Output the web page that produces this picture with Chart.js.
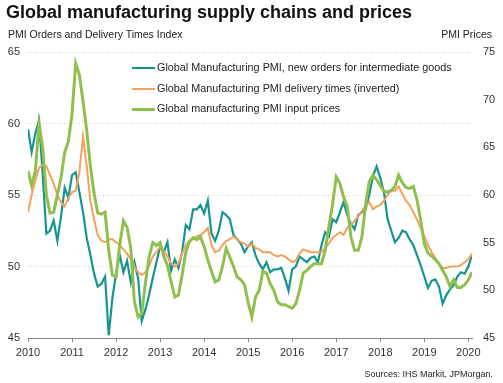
<!DOCTYPE html>
<html><head><meta charset="utf-8">
<script src="https://cdn.jsdelivr.net/npm/chart.js@4/dist/chart.umd.min.js"></script>
<style>
body{margin:0;background:#fff;}
#wrap{position:relative;width:503px;height:383px;font-family:"Liberation Sans",Arial,sans-serif;overflow:hidden;}
canvas{position:absolute;left:0;top:0;}
.t{position:absolute;white-space:nowrap;color:#222;line-height:1;}
.lg{position:absolute;left:132px;width:23px;height:2px;}
</style></head><body>
<div id="wrap">
<canvas id="c" width="503" height="383"></canvas>
<div class="t" style="left:6px;top:3px;font-size:18px;font-weight:bold;color:#111">Global manufacturing supply chains and prices</div>
<div class="t" style="left:8px;top:29px;font-size:10.5px">PMI Orders and Delivery Times Index</div>
<div class="t" style="right:11px;top:29px;font-size:10.5px">PMI Prices</div>
<div class="lg" style="top:67px;background:#16958f"></div>
<div class="t" style="left:157px;top:62px;font-size:10.8px">Global Manufacturing PMI, new orders for intermediate goods</div>
<div class="lg" style="top:88px;background:#f5a05c"></div>
<div class="t" style="left:157px;top:83px;font-size:10.8px">Global Manufacturing PMI delivery times (inverted)</div>
<div class="lg" style="top:108px;height:3px;background:#8fbf4d"></div>
<div class="t" style="left:157px;top:103px;font-size:10.8px">Global manufacturing PMI input prices</div>
<div class="t" style="right:10px;top:370px;font-size:9px">Sources: IHS Markit, JPMorgan.</div>
</div>
<script>
const startYear = 2010;
const yearTicks = [2010,2011,2012,2013,2014,2015,2016,2017,2018,2019,2020];
const leftTicks = [45,50,55,60,65];
const rightTicks = [45,50,55,60,65,70,75];
const newOrders = [59.6,58.0,59.3,60.2,56.5,52.3,52.5,53.2,51.8,53.5,55.5,54.8,56.4,56.6,55.2,53.8,52.0,50.8,49.5,48.6,48.8,49.3,45.2,47.8,49.5,50.8,49.6,50.4,48.9,50.3,49.2,46.2,47.0,48.0,49.2,50.3,51.4,51.0,51.7,49.7,50.5,49.9,51.0,52.9,52.6,54.0,54.0,54.3,53.7,54.6,52.3,51.8,52.5,53.8,53.6,53.3,52.2,51.9,51.6,51.0,51.4,51.7,50.8,50.2,49.8,50.3,49.6,49.8,49.8,49.9,49.2,48.3,49.8,50.0,50.7,50.5,50.3,50.6,50.7,50.3,51.5,52.4,52.1,53.3,53.1,53.8,54.5,53.6,53.0,52.6,53.6,53.8,54.0,55.0,56.3,57.0,56.2,55.2,53.3,52.5,51.7,52.0,52.5,52.4,51.9,51.5,50.8,50.1,49.3,48.5,49.0,49.1,48.6,47.4,48.0,48.4,48.7,49.3,49.6,49.5,50.0,50.8];
const deliveryTimes = [53.8,55.0,56.0,56.9,57.1,57.0,56.4,55.8,55.0,54.5,54.2,54.8,55.2,55.3,56.6,59.1,57.0,54.6,53.3,52.2,51.8,51.7,51.9,51.9,51.7,51.5,51.2,50.9,50.5,50.0,49.6,49.4,49.6,50.0,50.7,51.0,51.4,51.1,50.7,50.2,50.0,50.2,50.9,51.5,51.8,52.0,52.1,52.2,52.4,52.7,51.5,51.0,51.1,51.5,51.8,51.9,52.1,51.9,51.7,51.6,51.4,51.6,51.3,51.2,51.0,51.0,51.0,50.8,50.7,50.8,50.7,50.5,50.3,50.4,50.9,51.2,51.1,51.0,51.0,51.0,51.0,51.3,51.6,52.0,52.2,52.4,52.2,52.7,52.9,53.2,53.5,53.9,54.2,54.5,54.0,54.2,54.3,54.6,55.0,55.3,55.3,55.6,55.1,54.6,54.3,53.8,53.3,52.7,52.1,51.5,51.0,50.6,50.2,49.9,49.9,50.0,50.0,50.0,50.1,50.3,50.5,50.9];
const inputPrices = [62.5,61.0,62.5,67.5,65.0,60.0,58.1,58.2,60.0,61.8,64.5,65.6,68.5,73.8,72.6,69.8,66.8,63.0,60.2,58.1,58.0,58.2,54.2,51.6,51.4,54.8,57.3,56.6,54.5,48.8,47.2,47.6,50.8,53.5,55.0,54.7,55.0,53.6,52.6,50.9,49.3,49.5,51.6,54.0,55.1,55.5,55.3,55.6,54.6,53.2,52.0,50.9,51.1,52.5,54.4,53.5,52.5,51.4,51.1,50.6,48.7,47.2,49.3,50.0,52.0,51.8,50.7,50.0,48.8,48.5,48.5,48.3,48.1,48.6,50.0,51.8,52.1,52.5,52.8,52.8,52.8,54.2,56.7,59.0,61.9,61.2,59.8,58.8,55.6,54.2,54.2,55.6,59.0,61.4,62.1,61.6,61.0,60.4,60.3,60.5,60.9,62.1,61.3,60.8,60.7,60.9,59.5,57.4,54.9,53.9,53.6,53.2,52.8,52.1,51.4,50.4,51.1,50.3,50.3,50.6,51.1,51.9];

const toXY = arr => arr.map((v, i) => ({x: i, y: v}));
const tickFont = {family: "'Liberation Sans', Arial, sans-serif", size: 11};

new Chart(document.getElementById('c'), {
  type: 'line',
  data: {
    datasets: [
      {label: 'Global manufacturing PMI input prices', data: toXY(inputPrices), yAxisID: 'yR', borderColor: '#8fbf4d', borderWidth: 3, order: 0},
      {label: 'Global Manufacturing PMI delivery times (inverted)', data: toXY(deliveryTimes), yAxisID: 'y', borderColor: '#f5a05c', borderWidth: 2, order: 1},
      {label: 'Global Manufacturing PMI, new orders for intermediate goods', data: toXY(newOrders), yAxisID: 'y', borderColor: '#16958f', borderWidth: 2.2, order: 2}
    ]
  },
  options: {
    responsive: false,
    animation: false,
    devicePixelRatio: 1,
    layout: {padding: {top: 52, left: 0, right: 0, bottom: 0}},
    elements: {point: {radius: 0}, line: {tension: 0, fill: false}},
    plugins: {legend: {display: false}, tooltip: {enabled: false}},
    scales: {
      x: {
        type: 'linear', min: 0, max: newOrders.length - 1,
        afterBuildTicks: s => { s.ticks = yearTicks.map(y => ({value: (y - startYear) * 12})); },
        afterFit: s => { s.height = 45; },
        ticks: {callback: v => String(startYear + Math.round(v / 12)), font: tickFont, color: '#333', padding: 4, maxRotation: 0, autoSkip: false},
        grid: {drawOnChartArea: false, drawTicks: true, tickLength: 4, color: '#888'},
        border: {color: '#888', width: 1}
      },
      y: {
        position: 'left', min: 45, max: 65,
        afterBuildTicks: s => { s.ticks = leftTicks.map(v => ({value: v})); },
        afterFit: s => { s.width = 28; },
        ticks: {font: tickFont, color: '#333', padding: 8},
        grid: {drawTicks: false, color: c => c.tick && c.tick.value === 45 ? 'rgba(0,0,0,0)' : '#cfcfcf', lineWidth: 1},
        border: {display: false, dash: [1, 2]}
      },
      yR: {
        position: 'right', min: 45, max: 75,
        afterBuildTicks: s => { s.ticks = rightTicks.map(v => ({value: v})); },
        afterFit: s => { s.width = 31; },
        ticks: {font: tickFont, color: '#333', padding: 11},
        grid: {drawOnChartArea: false, drawTicks: false},
        border: {display: false}
      }
    }
  }
});
</script>
</body></html>
